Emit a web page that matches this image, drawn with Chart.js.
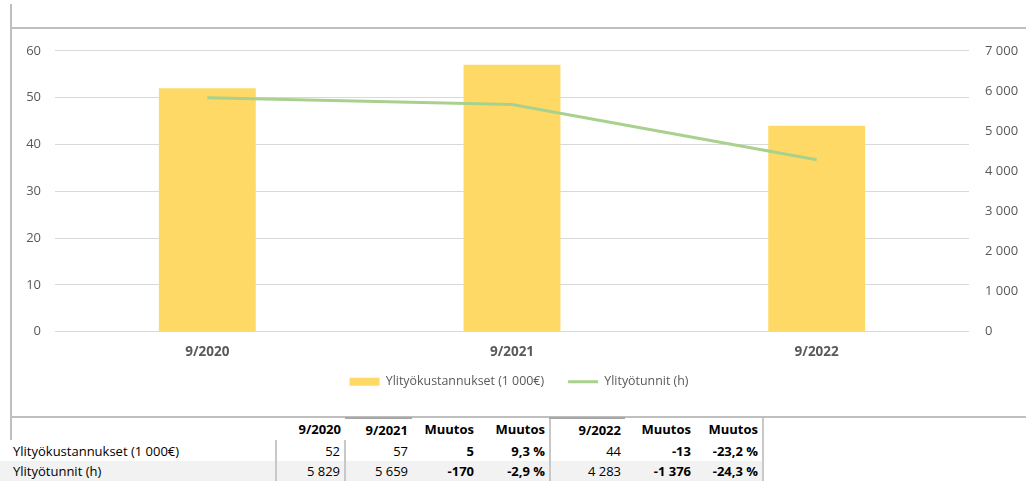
<!DOCTYPE html>
<html>
<head>
<meta charset="utf-8">
<script src="https://cdn.jsdelivr.net/npm/chart.js@4"></script>
<style>
  html, body { margin: 0; padding: 0; background: #fff; }
  body { width: 1026px; height: 481px; overflow: hidden; position: relative; font-family: 'Open Sans', sans-serif; color: #000; }
  .line { position: absolute; background: #bfbfbf; }
  #chart-box { position: absolute; left: 12px; top: 27px; width: 1014px; height: 389px; }
  #data-table { position: absolute; left: 0; top: 417px; border-collapse: collapse; table-layout: fixed; font-size: 13px; }
  #data-table td { padding: 0 4px 0 0; text-align: right; white-space: nowrap; overflow: hidden; }
  #data-table tr.head td { height: 21px; font-weight: bold; }
  #data-table tr.row1 td { height: 21px; }
  #data-table tr.row2 td { height: 20px; background: #f2f2f2; }
  #data-table td.label { text-align: left; padding-left: 13px; }
  #data-table td.bold { font-weight: bold; }
  #data-table td.bl { border-left: 2px solid #c8c8c8; }
  #data-table td.br { border-right: 2px solid #c8c8c8; }
  #data-table td.topdark { border-top: 2px solid #a6a6a6; }
</style>
</head>
<body>
<div class="line" style="left:10px; top:4px; width:2px; height:436px;"></div>
<div class="line" style="left:10px; top:27px; width:1016px; height:2px;"></div>
<div class="line" style="left:10px; top:416px; width:1016px; height:2px;"></div>

<div id="chart-box"><canvas id="overtimeChart"></canvas></div>
<table id="data-table"></table>

<script>
// --- Data ---
const categories = ['9/2020', '9/2021', '9/2022'];
const costValues = [52, 57, 44];          // Ylityökustannukset (1 000€)
const hourValues = [5829, 5659, 4283];    // Ylityötunnit (h)
const costTicks = [0, 10, 20, 30, 40, 50, 60];
const hourTicks = [0, 1000, 2000, 3000, 4000, 5000, 6000, 7000];

const costLabel = 'Ylityökustannukset (1 000€)';
const hourLabel = 'Ylityötunnit (h)';

// table below the chart
const tableHeaders = ['9/2020', '9/2021', 'Muutos', 'Muutos', '9/2022', 'Muutos', 'Muutos'];
const costRow = ['52', '57', '5', '9,3 %', '44', '-13', '-23,2 %'];
const hourRow = ['5 829', '5 659', '-170', '-2,9 %', '4 283', '-1 376', '-24,3 %'];

const colWidths = [276, 69, 67, 66, 72, 75, 70, 68];
const boldCols = [2, 3, 5, 6];

const BAR_COLOR = '#FFD966';
const LINE_COLOR = '#A9D18E';
const TEXT_COLOR = '#595959';
const GRID_COLOR = '#d9d9d9';

const fmt = v => String(v).replace(/\B(?=(\d{3})+(?!\d))/g, ' ');

// --- Table ---
function buildTable() {
    const table = document.getElementById('data-table');
    const colgroup = document.createElement('colgroup');
    colWidths.forEach(w => {
        const col = document.createElement('col');
        col.style.width = w + 'px';
        colgroup.appendChild(col);
    });
    table.appendChild(colgroup);

    const head = document.createElement('tr');
    head.className = 'head';
    head.appendChild(document.createElement('td'));
    tableHeaders.forEach((h, i) => {
        const td = document.createElement('td');
        td.textContent = h;
        if (i === 4) td.classList.add('bl');
        if (i === 6) td.classList.add('br');
        if (i === 1 || i === 4) td.classList.add('topdark');
        head.appendChild(td);
    });
    table.appendChild(head);

    [[costLabel, costRow, 'row1'], [hourLabel, hourRow, 'row2']].forEach(([label, vals, cls]) => {
        const tr = document.createElement('tr');
        tr.className = cls;
        const th = document.createElement('td');
        th.className = 'label';
        th.textContent = label;
        tr.appendChild(th);
        vals.forEach((v, i) => {
            const td = document.createElement('td');
            td.textContent = v;
            if (boldCols.includes(i)) td.classList.add('bold');
            if (i === 0 || i === 1 || i === 4) td.classList.add('bl');
            if (i === 6) td.classList.add('br');
            tr.appendChild(td);
        });
        table.appendChild(tr);
    });
}
buildTable();

// pull the legend a bit closer to the axis labels
const legendShift = {
    id: 'legendShift',
    afterLayout(chart) {
        if (chart.legend) {
            chart.legend.top -= 16;
            chart.legend.bottom -= 16;
        }
    }
};

// --- Chart ---
const ctx = document.getElementById('overtimeChart');
new Chart(ctx, {
    data: {
        labels: categories,
        datasets: [
            {
                type: 'bar',
                label: costLabel,
                data: costValues,
                backgroundColor: BAR_COLOR,
                borderWidth: 0,
                categoryPercentage: 1,
                barPercentage: 0.318,
                yAxisID: 'yCost',
                order: 1
            },
            {
                type: 'line',
                label: hourLabel,
                data: hourValues,
                borderColor: LINE_COLOR,
                backgroundColor: LINE_COLOR,
                borderWidth: 3,
                pointRadius: 0,
                tension: 0,
                yAxisID: 'yHours',
                order: 0
            }
        ]
    },
    plugins: [legendShift],
    options: {
        responsive: true,
        maintainAspectRatio: false,
        animation: false,
        layout: { padding: { top: 2, left: 0, right: 0, bottom: 2 } },
        plugins: {
            tooltip: { enabled: false },
            legend: {
                position: 'bottom',
                labels: {
                    color: TEXT_COLOR,
                    font: { family: 'Open Sans', size: 12.4 },
                    usePointStyle: true,
                    boxHeight: 8,
                    pointStyleWidth: 30,
                    padding: 24,
                    generateLabels: () => [
                        { text: costLabel, pointStyle: 'rect', fillStyle: BAR_COLOR, strokeStyle: BAR_COLOR, lineWidth: 0, fontColor: TEXT_COLOR, datasetIndex: 0 },
                        { text: hourLabel, pointStyle: 'line', fillStyle: LINE_COLOR, strokeStyle: LINE_COLOR, lineWidth: 3, fontColor: TEXT_COLOR, datasetIndex: 1 }
                    ]
                }
            }
        },
        scales: {
            x: {
                grid: { display: false, drawTicks: false },
                border: { display: false },
                ticks: {
                    color: TEXT_COLOR,
                    font: { family: 'Open Sans', size: 13.5, weight: 'bold' },
                    padding: 12
                },
                afterFit: s => { s.height = 36; }
            },
            yCost: {
                position: 'left',
                min: 0,
                max: 60,
                afterBuildTicks: s => { s.ticks = costTicks.map(v => ({ value: v })); },
                grid: { color: GRID_COLOR, drawTicks: false },
                border: { display: false },
                ticks: {
                    color: TEXT_COLOR,
                    font: { family: 'Open Sans', size: 13 },
                    padding: 14,
                    callback: v => fmt(v)
                },
                afterFit: s => { s.width = 43; }
            },
            yHours: {
                position: 'right',
                min: 0,
                max: 7000,
                afterBuildTicks: s => { s.ticks = hourTicks.map(v => ({ value: v })); },
                grid: { display: false, drawTicks: false },
                border: { display: false },
                ticks: {
                    color: TEXT_COLOR,
                    font: { family: 'Open Sans', size: 13 },
                    padding: 16,
                    callback: v => fmt(v)
                },
                afterFit: s => { s.width = 57; }
            }
        }
    }
});
</script>
</body>
</html>
